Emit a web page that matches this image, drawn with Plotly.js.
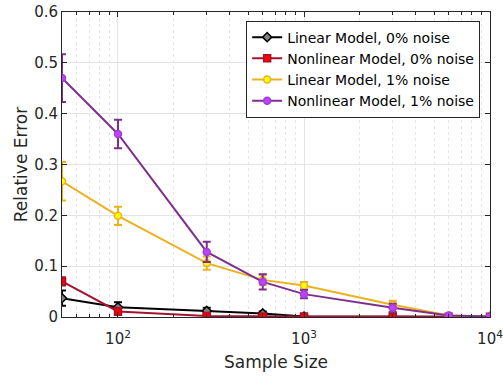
<!DOCTYPE html>
<html>
<head>
<meta charset="utf-8">
<script src="https://cdn.plot.ly/plotly-3.0.1.min.js"></script>
<style>html,body{margin:0;padding:0;background:#fff;}#plot{width:503px;height:377px;}</style>
</head>
<body>
<div id="plot"></div>
<script>
var sampleSizes = [50, 100, 300, 600, 1000, 3000, 6000, 10000];

var linear0 = [0.037, 0.019, 0.012, 0.007, 0.001, 0.0005, 0.0003, 0.0002];
var linear0Err = [0.015, 0.010, 0.006, 0.004, 0.001, 0.0005, 0.0003, 0.0002];

var nonlinear0 = [0.070, 0.011, 0.002, 0.001, 0.001, 0.001, 0.0005, 0.0003];
var nonlinear0Err = [0.008, 0.007, 0.002, 0.001, 0.001, 0.001, 0.0005, 0.0003];

var linear1 = [0.267, 0.199, 0.106, 0.073, 0.062, 0.024, 0.003, 0.001];
var linear1Err = [0.038, 0.018, 0.013, 0.010, 0.007, 0.008, 0.003, 0.002];

var nonlinear1 = [0.470, 0.360, 0.128, 0.069, 0.045, 0.018, 0.003, 0.001];
var nonlinear1Err = [0.047, 0.028, 0.020, 0.015, 0.008, 0.008, 0.003, 0.002];

var seriesNames = ['Linear Model, 0% noise', 'Nonlinear Model, 0% noise', 'Linear Model, 1% noise', 'Nonlinear Model, 1% noise'];

var majorTicks = [100, 1000, 10000];
var majorTickText = ['10<sup>2</sup>', '10<sup>3</sup>', '10<sup>4</sup>'];
var minorTicks = [50, 60, 70, 80, 90, 200, 300, 400, 500, 600, 700, 800, 900, 2000, 3000, 4000, 5000, 6000, 7000, 8000, 9000];

var yTicks = [0, 0.1, 0.2, 0.3, 0.4, 0.5, 0.6];
var yTickText = ['0', '0.1', '0.2', '0.3', '0.4', '0.5', '0.6'];

function mk(y, err, name, lineColor, sym, fill, edge) {
  return {
    x: sampleSizes, y: y, name: name, type: 'scatter', mode: 'lines+markers',
    line: {color: lineColor, width: 2},
    marker: {symbol: sym, size: 7, color: fill, line: {color: edge, width: 1.5}},
    error_y: {type: 'data', array: err, visible: true, color: lineColor, thickness: 2, width: 4}
  };
}

var data = [
  mk(linear0, linear0Err, seriesNames[0], '#000000', 'diamond', '#808080', '#000000'),
  mk(nonlinear0, nonlinear0Err, seriesNames[1], '#A2142F', 'square', '#FF0000', '#A2142F'),
  mk(linear1, linear1Err, seriesNames[2], '#EDB120', 'circle', '#FFFF00', '#EDB120'),
  mk(nonlinear1, nonlinear1Err, seriesNames[3], '#7E2F8E', 'circle', '#BF40FF', '#A040D0')
];

var layout = {
  width: 503, height: 377,
  margin: {l: 62, r: 13, t: 12, b: 60, autoexpand: false},
  paper_bgcolor: '#fff', plot_bgcolor: '#fff',
  font: {family: 'DejaVu Sans, sans-serif', size: 15, color: '#262626'},
  showlegend: true,
  legend: {
    x: 0.977, y: 0.972, xanchor: 'right', yanchor: 'top',
    bgcolor: '#fff', bordercolor: '#262626', borderwidth: 1,
    font: {size: 14, color: '#000'}, tracegroupgap: 0, itemwidth: 30
  },
  xaxis: {
    type: 'log', range: [Math.log10(50), 4],
    tickmode: 'array', tickvals: majorTicks, ticktext: majorTickText,
    ticks: 'inside', ticklen: 5, tickcolor: '#262626',
    ticklabelstandoff: 8, ticklabeloverflow: 'allow', automargin: false,
    showline: true, linecolor: '#262626', linewidth: 1, mirror: 'ticks',
    showgrid: true, gridcolor: '#e3e3e3', gridwidth: 1,
    zeroline: false,
    minor: {tickmode: 'array', tickvals: minorTicks, ticks: 'inside', ticklen: 3, tickcolor: '#262626', showgrid: true, gridcolor: '#e6e6e6', griddash: 'dot', gridwidth: 1},
    title: {text: 'Sample Size', font: {size: 17, color: '#262626'}, standoff: 9}
  },
  yaxis: {
    range: [0, 0.6], tickmode: 'array', tickvals: yTicks, ticktext: yTickText,
    ticks: 'inside', ticklen: 5, tickcolor: '#262626', automargin: false,
    showline: true, linecolor: '#262626', linewidth: 1, mirror: 'ticks',
    showgrid: true, gridcolor: '#e3e3e3', gridwidth: 1,
    zeroline: false,
    title: {text: 'Relative Error', font: {size: 17, color: '#262626'}, standoff: 2}
  }
};

Plotly.newPlot('plot', data, layout, {displayModeBar: false, staticPlot: true});
</script>
</body>
</html>
